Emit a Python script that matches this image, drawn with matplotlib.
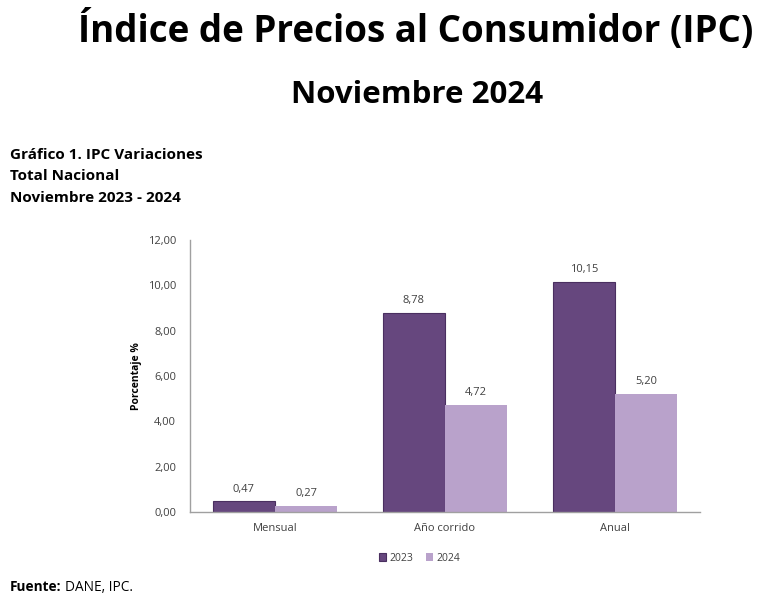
#!/usr/bin/env python3

import numpy as np
import matplotlib
matplotlib.use('Agg')
import matplotlib.pyplot as plt

plt.rcParams['font.family'] = ['Open Sans', 'DejaVu Sans']

categories = ['Mensual', 'Año corrido', 'Anual']
years = ['2023', '2024']
v2023 = [0.47, 8.78, 10.15]
v2024 = [0.27, 4.72, 5.20]
yticks = [0, 2, 4, 6, 8, 10, 12]

colors = ['#66477e', '#b9a2cb']


def fmt(v):
	return ('%.2f' % v).replace('.', ',')


fig = plt.figure(figsize=(7.7, 5.95), dpi=100)
ax = fig.add_axes([0.2468, 0.1395, 0.6622, 0.4571])

x = np.arange(len(categories))
w = 0.365
b1 = ax.bar(x - w/2, v2023, w, color=colors[0], edgecolor='#4a2f60', linewidth=0.8, label=years[0])
b2 = ax.bar(x + w/2, v2024, w, color=colors[1], label=years[1])
for bars in (b1, b2):
	for r in bars:
		ax.text(r.get_x() + r.get_width()/2, r.get_height() + 0.3, fmt(r.get_height()),
			ha='center', va='bottom', fontsize=8, color='#404040')

ax.set_xlim(-0.5, 2.5)
ax.set_ylim(0, 12)
ax.set_yticks(yticks)
ax.set_yticklabels([fmt(t) for t in yticks], fontsize=8, color='#404040')
ax.set_xticks(x)
ax.set_xticklabels(categories, fontsize=8, color='#404040')
ax.tick_params(length=0, pad=10)
ax.tick_params(axis='x', pad=8)
for s in ['top', 'right']:
	ax.spines[s].set_visible(False)
for s in ['left', 'bottom']:
	ax.spines[s].set_color('#a0a0a0')
	ax.spines[s].set_linewidth(1.0)
ax.set_ylabel('Porcentaje %', fontsize=7.5, fontweight='bold', labelpad=4)

leg = ax.legend(loc='upper center', bbox_to_anchor=(0.45, -0.115), ncol=2, frameon=False,
	fontsize=7.5, handlelength=0.7, handleheight=0.7, handletextpad=0.3, columnspacing=1.2)
for t in leg.get_texts():
	t.set_color('#404040')

fig.text(0.54, 0.948, 'Índice de Precios al Consumidor (IPC)', ha='center', va='center',
	fontsize=26.5, fontweight='bold')
fig.text(0.542, 0.84, 'Noviembre 2024', ha='center', va='center', fontsize=22.5, fontweight='bold')
fig.text(0.013, 0.74, 'Gráfico 1. IPC Variaciones', ha='left', va='center', fontsize=11, fontweight='bold')
fig.text(0.013, 0.705, 'Total Nacional', ha='left', va='center', fontsize=11, fontweight='bold')
fig.text(0.013, 0.668, 'Noviembre 2023 - 2024', ha='left', va='center', fontsize=11, fontweight='bold')
fig.text(0.013, 0.013, 'Fuente:', ha='left', va='center', fontsize=9.8, fontweight='bold')
fig.text(0.085, 0.013, 'DANE, IPC.', ha='left', va='center', fontsize=9.8)

fig.savefig('out.png', dpi=100)
